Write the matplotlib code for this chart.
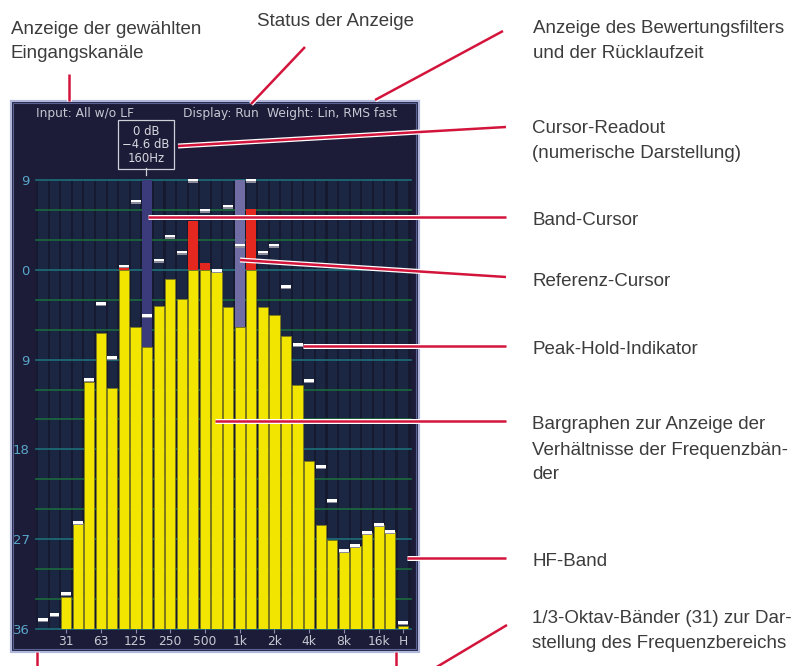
import numpy as np
import matplotlib
matplotlib.use("Agg")
import matplotlib.pyplot as plt
import matplotlib.patheffects as pe
from matplotlib.patches import Rectangle

# 1/3-octave bands (20 Hz .. 20 kHz) plus the HF band
bands = ["20", "25", "31.5", "40", "50", "63", "80", "100", "125", "160",
         "200", "250", "315", "400", "500", "630", "800", "1k", "1.25k", "1.6k",
         "2k", "2.5k", "3.15k", "4k", "5k", "6.3k", "8k", "10k", "12.5k", "16k",
         "20k", "H"]
# bar level in dB (None = below the display floor)
level_db = [None, None, -32.8, -25.4, -11.2, -6.35, -11.8, 0.3, -5.7, -7.75,
            -3.6, -0.94, -2.9, 4.85, 0.7, -0.27, -3.75, -5.7, 6.1, -3.75,
            -4.55, -6.6, -11.5, -19.2, -25.6, -27.1, -28.25, -27.7, -26.4, -25.6,
            -26.3, -35.7]
# peak-hold values in dB
peak_db = [-35.0, -34.5, -32.4, -25.3, -11.0, -3.4, -8.8, 0.4, 6.9, -4.6,
           1.0, 3.4, 1.8, 9.0, 6.0, -0.1, 6.4, 2.5, 9.0, 1.8,
           2.5, -1.7, -7.45, -11.1, -19.7, -23.1, -28.15, -27.6, -26.3, -25.5,
           -26.2, -35.3]
tick_bands = ["31.5", "63", "125", "250", "500", "1k", "2k", "4k", "8k", "16k", "H"]
tick_labels = ["31", "63", "125", "250", "500", "1k", "2k", "4k", "8k", "16k", "H"]
db_ticks = [9, 0, -9, -18, -27, -36]
db_labels = ["9", "0", "9", "18", "27", "36"]
band_cursor = "160"
ref_cursor = "1k"
readout = ["0 dB", "\u22124.6 dB", "160Hz"]
header_input = "Input: All w/o LF"
header_display = "Display: Run"
header_weight = "Weight: Lin, RMS fast"

W, H = 792, 666
FLOOR, TOP = -36, 9
RED = "#d3153c"
TXT = "#3c3c3c"

# band positions (the HF band sits a little apart)
xpos = np.arange(len(bands), dtype=float)
xpos[-1] += 0.1
pos = dict(zip(bands, xpos))

fig = plt.figure(figsize=(W / 100, H / 100), dpi=100)

# background layer: display panel
bg = fig.add_axes([0, 0, 1, 1], zorder=0)
bg.set_xlim(0, W)
bg.set_ylim(H, 0)
bg.axis("off")
bg.add_patch(Rectangle((10.5, 100.5), 408, 551, fc="#1c1b38", ec="#b0b8dc", lw=1.6))
bg.add_patch(Rectangle((12.8, 102.8), 403.4, 546.4, fc="none", ec="#5a6195", lw=0.8))

# data axes
ax = fig.add_axes([36 / W, (H - 629) / H, 375 / W, 454 / H], zorder=1)
ax.set_facecolor("none")
ax.set_xlim(-0.6, 31.8)
ax.set_ylim(FLOOR, 9.5)
for s in ax.spines.values():
    s.set_visible(False)

# column stripes
ax.add_patch(Rectangle((-0.6, FLOOR), 32.4, TOP - FLOOR, fc="#161a31", ec="none", zorder=0))
ax.bar(xpos, TOP - FLOOR, bottom=FLOOR, width=0.82, color="#1b2643", zorder=0.5)

# grid every 3 dB
for v in range(FLOOR, TOP + 1, 3):
    col = "#1e6f78" if v % 9 == 0 else "#1a6a3c"
    ax.axhline(v, color=col, lw=1.2, zorder=1, clip_on=False)

# cursor columns
for name, col in [(band_cursor, "#3b3a7a"), (ref_cursor, "#6f6da3")]:
    i = bands.index(name)
    lv = level_db[i]
    ax.bar(pos[name], TOP - lv, bottom=lv, width=0.88, color=col, zorder=2)

# bargraphs
for x, lv in zip(xpos, level_db):
    if lv is None:
        continue
    ax.bar(x, min(lv, 0) - FLOOR, bottom=FLOOR, width=0.88, color="#f2e600",
           edgecolor="#7d7a1c", lw=0.6, zorder=3)
    if lv > 0:
        ax.bar(x, lv, bottom=0, width=0.88, color="#e5281f", zorder=3)

# peak hold markers
pk = np.array(peak_db)
ax.bar(xpos, 0.12, bottom=pk - 0.27, width=0.86, color="#8c8c9c", zorder=4)
ax.bar(xpos, 0.28, bottom=pk - 0.15, width=0.86, color="white", zorder=4)

# cursor readout
ax.text(pos[band_cursor] - 0.1, 12.55, "\n".join(readout), ha="center", va="center",
        fontsize=8.4, color="#d8d8e0", linespacing=1.05, clip_on=False, zorder=5,
        bbox=dict(boxstyle="square,pad=0.35", fc="#1c1b38", ec="#cfcfd6", lw=0.9))
ax.plot([pos[band_cursor] - 0.1] * 2, [10.2, 9.5], color="#cfcfd6", lw=0.9,
        clip_on=False, zorder=5)

ax.set_xticks([pos[b] for b in tick_bands], tick_labels)
ax.tick_params(axis="x", length=3, width=0.8, color="#8a8ea8", labelcolor="#c9cad4",
               labelsize=8.8, pad=1.6)
ax.set_yticks(db_ticks, db_labels)
ax.tick_params(axis="y", length=0, pad=4.5, labelcolor="#5aa6c9", labelsize=9.5)

# overlay: header and callouts
ov = fig.add_axes([0, 0, 1, 1], zorder=5)
ov.set_xlim(0, W)
ov.set_ylim(H, 0)
ov.axis("off")
ov.patch.set_alpha(0)

hdr = dict(fontsize=8.8, color="#c6c7d2", va="center")
ov.text(36, 113, header_input, **hdr)
ov.text(183, 113, header_display, **hdr)
ov.text(267, 113, header_weight, **hdr)

halo = [pe.Stroke(linewidth=3.6, foreground="white"), pe.Normal()]
callouts = [
    ((69, 74), (69, 101)),
    ((305, 47), (251, 104)),
    ((503, 31), (375, 100)),
    ((506, 127), (178, 146)),
    ((506, 217), (148, 217)),
    ((506, 277), (240, 260)),
    ((506, 346), (303, 346)),
    ((506, 421), (215, 421)),
    ((506, 558), (407, 558)),
    ((507, 625), (430, 671)),
    ((37, 652), (37, 670)),
    ((396, 652), (396, 670)),
]
for (x0, y0), (x1, y1) in callouts:
    ov.plot([x0, x1], [y0, y1], color=RED, lw=1.8, solid_capstyle="butt",
            path_effects=halo)

lab = dict(fontsize=13.5, color=TXT, family="Liberation Sans", va="baseline")
labels = [
    (11, 34, "Anzeige der gewählten"),
    (11, 58, "Eingangskanäle"),
    (257, 26, "Status der Anzeige"),
    (533, 33, "Anzeige des Bewertungsfilters"),
    (533, 58, "und der Rücklaufzeit"),
    (532, 133, "Cursor-Readout"),
    (532, 158, "(numerische Darstellung)"),
    (532, 225, "Band-Cursor"),
    (532, 286, "Referenz-Cursor"),
    (532, 354, "Peak-Hold-Indikator"),
    (532, 429, "Bargraphen zur Anzeige der"),
    (532, 455, "Verhältnisse der Frequenzbän-"),
    (532, 479, "der"),
    (532, 566, "HF-Band"),
    (532, 623, "1/3-Oktav-Bänder (31) zur Dar-"),
    (532, 648, "stellung des Frequenzbereichs"),
]
for x, y, s in labels:
    ov.text(x, y, s, **lab)

fig.savefig("out.png", dpi=100)
